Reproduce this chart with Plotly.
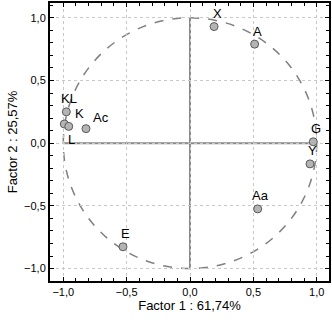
import plotly.graph_objects as go

labels = ["X", "A", "KL", "K", "L", "Ac", "G", "Y", "Aa", "E"]
factor1 = [0.19, 0.51, -0.976, -0.992, -0.957, -0.821, 0.973, 0.947, 0.534, -0.529]
factor2 = [0.93, 0.79, 0.25, 0.153, 0.134, 0.116, 0.011, -0.165, -0.524, -0.826]
tick_vals = [-1.0, -0.5, 0.0, 0.5, 1.0]
x_title = "Factor 1 : 61,74%"
y_title = "Factor 2 : 25,57%"

# label offsets in pixels (style)
label_shift = {"K": (15, 11), "Ac": (15, 11), "L": (3, -13)}

fig = go.Figure()
fig.add_shape(type="circle", x0=-1, y0=-1, x1=1, y1=1, xref="x", yref="y",
              line=dict(color="#808080", width=1.5, dash="dash"), layer="below")
fig.add_shape(type="line", x0=-1, x1=1, y0=0, y1=0, xref="x", yref="y",
              line=dict(color="#8a8a8a", width=2), layer="below")
fig.add_shape(type="line", x0=0, x1=0, y0=-1, y1=1, xref="x", yref="y",
              line=dict(color="#8a8a8a", width=2), layer="below")

fig.add_trace(go.Scatter(
    x=factor1, y=factor2, mode="markers",
    marker=dict(size=8, color="#b4b4b4", line=dict(color="#5a5a5a", width=1)),
    showlegend=False, hoverinfo="text", text=labels))

for lab, xv, yv in zip(labels, factor1, factor2):
    dx, dy = label_shift.get(lab, (3, 13))
    fig.add_annotation(x=xv, y=yv, text=lab, showarrow=False, xshift=dx, yshift=dy,
                       font=dict(family="Liberation Sans, Arial", size=13, color="black"))

axis_common = dict(
    tickvals=tick_vals, tickformat=".1f", ticks="inside", ticklen=4, tickwidth=1,
    tickcolor="black", showline=True, linecolor="black", linewidth=2, mirror="ticks",
    showgrid=True, gridcolor="#c8c8c8", griddash="dot", gridwidth=1, zeroline=False,
    tickfont=dict(family="Liberation Sans, Arial", size=11, color="black"),
    minor=dict(dtick=0.1, ticks="inside", ticklen=3, tickcolor="black", showgrid=False),
)

fig.update_xaxes(range=[-1.105, 1.097], title=dict(text=x_title, standoff=4,
                 font=dict(family="Liberation Sans, Arial", size=13, color="black")),
                 **axis_common)
fig.update_yaxes(range=[-1.099, 1.118], title=dict(text=y_title, standoff=4,
                 font=dict(family="Liberation Sans, Arial", size=13, color="black")),
                 **axis_common)

fig.update_layout(
    width=332, height=320, separators=", ",
    margin=dict(l=50, r=3, t=1, b=39),
    plot_bgcolor="white", paper_bgcolor="white",
)
fig.write_html("out.html", config={"displayModeBar": False},
               post_script="document.body.style.margin='0';document.body.style.padding='0';")
